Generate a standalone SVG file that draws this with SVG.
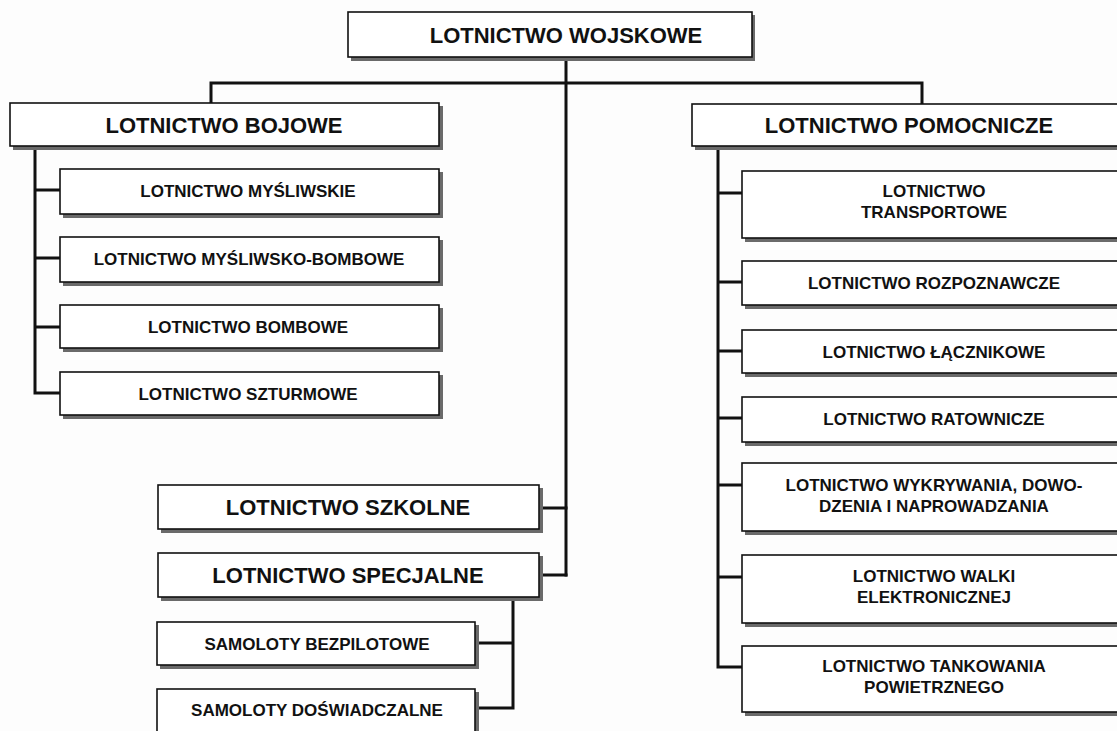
<svg xmlns="http://www.w3.org/2000/svg" width="1117" height="731" viewBox="0 0 1117 731">
<style>
.sh{fill:#6a6a6a}
.bx{fill:#ffffff;stroke:#111;stroke-width:1.6}
.t1{font-family:"Liberation Sans",Arial,sans-serif;font-weight:bold;font-size:22px;fill:#111;text-anchor:middle}
.t2{font-family:"Liberation Sans",Arial,sans-serif;font-weight:bold;font-size:17px;fill:#111;text-anchor:middle}
.c{fill:none;stroke:#111;stroke-width:3;stroke-linejoin:miter;stroke-linecap:square}
</style>
<rect width="1117" height="731" fill="#fdfdfd"/>
<g id="connectors">
<path class="c" d="M566 61 V575 M211 83 H922 M211 83 V103 M922 83 V104"/>
<path class="c" d="M35 147 V393 M35 190 H60 M35 258 H60 M35 327 H60 M35 393 H60"/>
<path class="c" d="M718 147 V667 M718 193 H742 M718 282 H742 M718 351 H742 M718 418 H742 M718 485 H742 M718 577 H742 M718 667 H742"/>
<path class="c" d="M542 508 H566 M542 575 H566"/>
<path class="c" d="M513 600 V708 M479 643 H513 M479 708 H513"/>
</g>
<g id="n-wojskowe"><rect class="sh" x="351" y="15" width="404" height="46"/><rect class="bx" x="348" y="12" width="404" height="45"/><text class="t1" x="566" y="43">LOTNICTWO WOJSKOWE</text></g>
<g id="n-bojowe"><rect class="sh" x="13" y="106" width="430" height="44"/><rect class="bx" x="10" y="103" width="429" height="43"/><text class="t1" x="224" y="133">LOTNICTWO BOJOWE</text></g>
<g id="n-mysliwskie"><rect class="sh" x="63" y="172" width="380" height="46"/><rect class="bx" x="60" y="169" width="379" height="45"/><text class="t2" x="248" y="197">LOTNICTWO MYŚLIWSKIE</text></g>
<g id="n-mysliwsko"><rect class="sh" x="63" y="240" width="380" height="46"/><rect class="bx" x="60" y="237" width="379" height="45"/><text class="t2" x="249" y="265">LOTNICTWO MYŚLIWSKO-BOMBOWE</text></g>
<g id="n-bombowe"><rect class="sh" x="63" y="308" width="380" height="44"/><rect class="bx" x="60" y="305" width="379" height="43"/><text class="t2" x="248" y="333">LOTNICTWO BOMBOWE</text></g>
<g id="n-szturmowe"><rect class="sh" x="63" y="375" width="380" height="44"/><rect class="bx" x="60" y="372" width="379" height="43"/><text class="t2" x="248" y="400">LOTNICTWO SZTURMOWE</text></g>
<g id="n-szkolne"><rect class="sh" x="161" y="488" width="382" height="45"/><rect class="bx" x="158" y="485" width="381" height="44"/><text class="t1" x="348" y="515">LOTNICTWO SZKOLNE</text></g>
<g id="n-specjalne"><rect class="sh" x="161" y="556" width="382" height="45"/><rect class="bx" x="158" y="553" width="381" height="44"/><text class="t1" x="348" y="583">LOTNICTWO SPECJALNE</text></g>
<g id="n-bezpilotowe"><rect class="sh" x="160" y="625" width="319" height="44"/><rect class="bx" x="157" y="622" width="318" height="43"/><text class="t2" x="317" y="650">SAMOLOTY BEZPILOTOWE</text></g>
<g id="n-doswiadczalne"><rect class="sh" x="160" y="692" width="319" height="45"/><rect class="bx" x="157" y="689" width="318" height="45"/><text class="t2" x="317" y="716">SAMOLOTY DOŚWIADCZALNE</text></g>
<g id="n-pomocnicze"><rect class="sh" x="695" y="107" width="440" height="43"/><rect class="bx" x="692" y="104" width="440" height="42"/><text class="t1" x="909" y="133">LOTNICTWO POMOCNICZE</text></g>
<g id="n-transportowe"><rect class="sh" x="745" y="174" width="390" height="68"/><rect class="bx" x="742" y="171" width="390" height="67"/><text class="t2" x="934" y="197">LOTNICTWO</text><text class="t2" x="934" y="218">TRANSPORTOWE</text></g>
<g id="n-rozpoznawcze"><rect class="sh" x="745" y="264" width="390" height="45"/><rect class="bx" x="742" y="261" width="390" height="44"/><text class="t2" x="934" y="289">LOTNICTWO ROZPOZNAWCZE</text></g>
<g id="n-lacznikowe"><rect class="sh" x="745" y="333" width="390" height="44"/><rect class="bx" x="742" y="330" width="390" height="43"/><text class="t2" x="934" y="358">LOTNICTWO ŁĄCZNIKOWE</text></g>
<g id="n-ratownicze"><rect class="sh" x="745" y="400" width="390" height="46"/><rect class="bx" x="742" y="397" width="390" height="45"/><text class="t2" x="934" y="425">LOTNICTWO RATOWNICZE</text></g>
<g id="n-wykrywania"><rect class="sh" x="745" y="466" width="390" height="69"/><rect class="bx" x="742" y="463" width="390" height="68"/><text class="t2" x="934" y="491">LOTNICTWO WYKRYWANIA, DOWO-</text><text class="t2" x="934" y="512">DZENIA I NAPROWADZANIA</text></g>
<g id="n-walki"><rect class="sh" x="745" y="558" width="390" height="69"/><rect class="bx" x="742" y="555" width="390" height="68"/><text class="t2" x="934" y="582">LOTNICTWO WALKI</text><text class="t2" x="934" y="603">ELEKTRONICZNEJ</text></g>
<g id="n-tankowania"><rect class="sh" x="745" y="649" width="390" height="67"/><rect class="bx" x="742" y="646" width="390" height="66"/><text class="t2" x="934" y="672">LOTNICTWO TANKOWANIA</text><text class="t2" x="934" y="693">POWIETRZNEGO</text></g>
</svg>
